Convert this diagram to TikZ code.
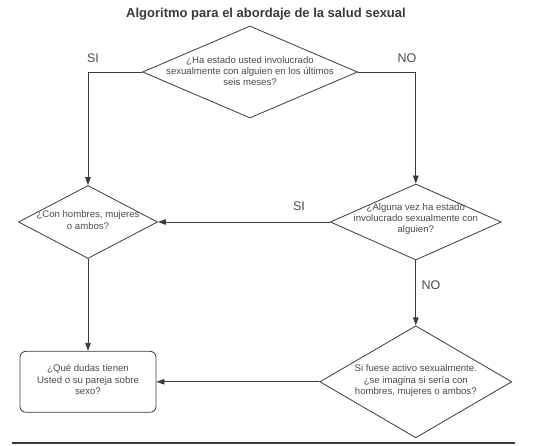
\documentclass[tikz,border=0pt]{standalone}
\usepackage{fontspec}
\setmainfont{Liberation Sans}
\usepackage{xcolor,tikz}
\usetikzlibrary{arrows.meta,positioning,shapes.geometric}
\definecolor{ink}{HTML}{3A3A3A}
\definecolor{txt}{HTML}{4A4A4A}

\begin{document}
\begin{tikzpicture}[x=1pt,y=-1pt,>={Triangle[length=8pt,width=5.5pt]},
 decision/.style={draw=ink,diamond,line width=0.8pt,inner sep=0pt},
 answer/.style={draw=ink,rounded corners=6pt,line width=0.8pt,minimum width=136pt,minimum height=61pt},
 qtext/.style={align=center,text=txt,font=\fontsize{9.6}{11.3}\selectfont},
 branch/.style={text=txt,font=\fontsize{12.5}{14}\selectfont},
 flow/.style={->,draw=ink,line width=0.8pt}]
\useasboundingbox (0,0) rectangle (542,446);
\node[font=\fontsize{13}{15}\selectfont\bfseries,text=ink] (title) at (266,14) {Algoritmo para el abordaje de la salud sexual};
% decision diamonds
\node[decision,minimum width=215pt,minimum height=92pt] (q1) at (250,72) {};
\node[decision,minimum width=139pt,minimum height=73pt] (q2) at (88,222) {};
\node[decision,minimum width=171pt,minimum height=76pt,right=172pt of q2] (q3) {};
\node[decision,minimum width=192pt,minimum height=112pt,below=65pt of q3] (q4) {};
\node[answer,below=92pt of q2] (b) {};
% texts
\node[qtext] (q1t) at ([yshift=1pt]q1) {¿Ha estado usted involucrado\\sexualmente con alguien en los últimos\\seis meses?};
\node[qtext] (q2t) at ([yshift=2pt]q2) {¿Con hombres, mujeres\\o ambos?};
\node[qtext] (q3t) at ([yshift=3pt]q3) {¿Alguna vez ha estado\\involucrado sexualmente con\\alguien?};
\node[qtext] (q4t) at ([yshift=1pt]q4) {Si fuese activo sexualmente.\\¿se imagina si sería con\\hombres, mujeres o ambos?};
\node[qtext] (bt) at ([yshift=2pt]b) {¿Qué dudas tienen\\Usted o su pareja sobre\\sexo?};
% connectors
\draw[flow] (q1.west) -| (q2.north);
\draw[flow] (q1.east) -| (q3.north);
\draw[flow] (q3.west) -- (q2.east);
\draw[flow] (q2.south) -- (b.north);
\draw[flow] (q3.south) -- (q4.north);
\draw[flow] (q4.west) -- (b.east);
\node[branch] (si1) at (93,58) {SI};
\node[branch] (no1) at (407,58) {NO};
\node[branch] (si2) at (299,206) {SI};
\node[branch] (no2) at (431,285) {NO};
% bottom rule
\coordinate (ruleL) at (12,443);
\coordinate (ruleR) at (515,443);
\draw[ink,line width=1.8pt] (ruleL) -- (ruleR);
\end{tikzpicture}
\end{document}
